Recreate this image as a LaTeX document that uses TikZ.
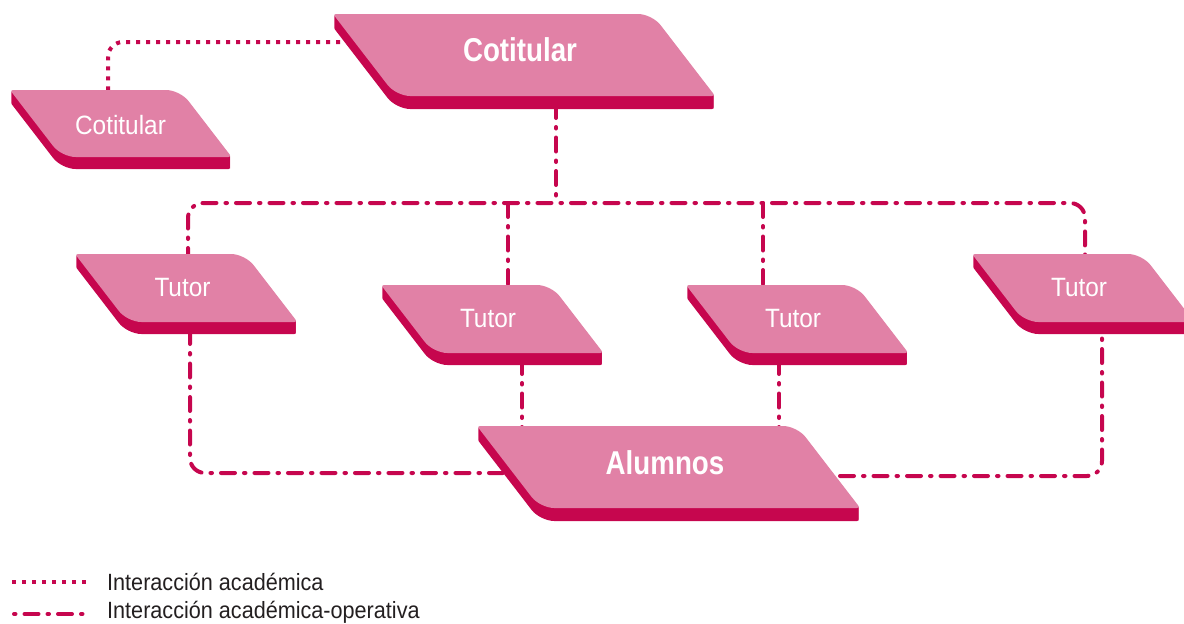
\documentclass[tikz,border=0pt]{standalone}
\usepackage{fontspec}
\setmainfont{Liberation Sans}
\newfontfamily\regf{Liberation Sans}[FakeStretch=0.92]
\newfontfamily\boldf{Liberation Sans}[FakeStretch=0.84]
\definecolor{pk}{RGB}{225,129,166}
\definecolor{dk}{RGB}{198,6,78}
\definecolor{txt}{RGB}{35,31,32}
\tikzset{
  acad/.style={draw=dk, line width=4pt, dash pattern=on 4pt off 6pt},
  aop/.style={draw=dk, line width=4pt, line cap=round, dash pattern=on 14pt off 9pt on 1.5pt off 9pt},
  lbl/.style={text=white, inner sep=0pt},
  lblr/.style={lbl, font=\regf\fontsize{26.5}{30}\selectfont},
  lblb/.style={lbl, font=\boldf\bfseries\fontsize{33}{38}\selectfont},
  leg/.style={text=txt, anchor=base west, inner sep=0pt, font=\regf\fontsize{23.5}{28}\selectfont}
}
\newcommand\sface[1]{(\Sx+0.5*\Sw,\Sy+#1) [rounded corners=14pt] -- (\Sx+\Sw,\Sy+#1) [rounded corners=3pt] -- (\Sx+\Sw+\So,\Sy+\Sh+#1) [rounded corners=14pt] -- (\Sx+\So,\Sy+\Sh+#1) [rounded corners=3pt] -- (\Sx,\Sy+#1) -- cycle}
\newcommand\slab[9]{%
  \pgfmathsetmacro\Sx{#2}%
  \pgfmathsetmacro\Sy{#3}%
  \pgfmathsetmacro\Sw{#4}%
  \pgfmathsetmacro\Sh{#5}%
  \pgfmathsetmacro\So{0.77*#5}%
  \foreach \dd in {1,...,#6}{\fill[dk] \sface{\dd};}%
  \fill[pk] \sface{0};%
  \node[#8] (#1) at #7 {#9};%
}
\begin{document}
\begin{tikzpicture}[x=1pt,y=-1pt]
\useasboundingbox (0,0) rectangle (1184,624);
\clip (0,0) rectangle (1184,624);
% connection points
\coordinate (c0w) at (350,42);
\coordinate (c1n) at (108,98);
\coordinate (c0s) at (556,104);
\coordinate (bus) at (556,203);
\coordinate (t1n) at (188,262);
\coordinate (t2n) at (508,292);
\coordinate (t3n) at (763,292);
\coordinate (t4n) at (1085,262);
\coordinate (t1s) at (190,330);
\coordinate (t2s) at (522,360);
\coordinate (t3s) at (779,360);
\coordinate (t4s) at (1102,330);
\coordinate (alw) at (505,473);
\coordinate (ale) at (840,476);
\coordinate (a2) at (522,432);
\coordinate (a3) at (779,432);
% connectors
\draw[acad, rounded corners=15pt] (c0w) -| (c1n);
\draw[aop] (c0s) -- (bus);
\draw[aop, rounded corners=15pt] (t1n) |- (bus) -| (t4n);
\draw[aop] (t2n |- bus) -- (t2n);
\draw[aop] (t3n |- bus) -- (t3n);
\draw[aop, rounded corners=15pt] (t1s) |- (alw);
\draw[aop] (t2s) -- (a2);
\draw[aop] (t3s) -- (a3);
\draw[aop, rounded corners=15pt] (ale) -| (t4s);
% shapes
\slab{c1}{10}{90}{170}{67}{12}{(120.5,125)}{lblr}{Cotitular}
\slab{c0}{333}{14}{319}{82}{13}{(520,50)}{lblb}{Cotitular}
\slab{t1}{75}{254}{170}{68}{12}{(182.5,288)}{lblr}{Tutor}
\slab{t2}{381}{285}{170}{68}{12}{(488,319)}{lblr}{Tutor}
\slab{t3}{686}{285}{170}{68}{12}{(793,319)}{lblr}{Tutor}
\slab{t4}{972}{254}{170}{68}{12}{(1079,288)}{lblr}{Tutor}
\slab{al}{477}{426}{320}{82}{13}{(665,463)}{lblb}{Alumnos}
% legend
\coordinate (l1a) at (12,582);
\coordinate (l1b) at (86,582);
\coordinate (l2a) at (14,614);
\coordinate (l2b) at (88,614);
\draw[acad] (l1a) -- (l1b);
\draw[aop, dash pattern=on 1.5pt off 9pt on 14pt off 9pt] (l2a) -- (l2b);
\node[leg] (lg1) at (107,590) {Interacción académica};
\node[leg] (lg2) at (107,618) {Interacción académica-operativa};
\end{tikzpicture}
\end{document}
